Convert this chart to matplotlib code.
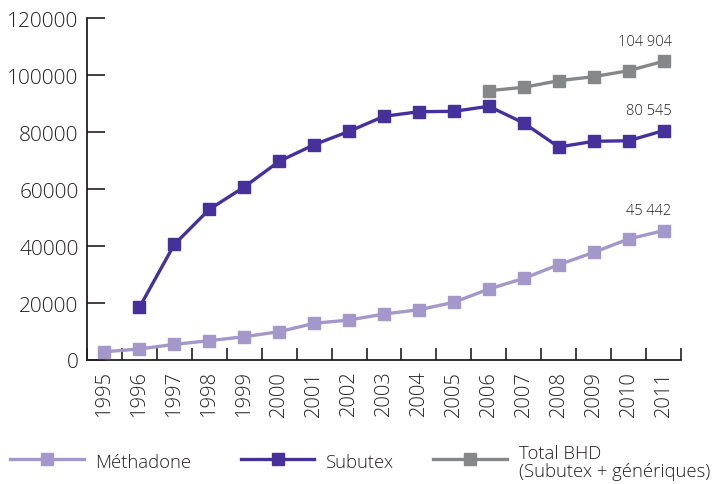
import matplotlib
matplotlib.use("Agg")
import matplotlib.pyplot as plt
from matplotlib.lines import Line2D

years = [str(y) for y in range(1995, 2012)]
methadone = [2900, 3860, 5500, 6780, 8190, 9940, 12880, 14040, 16150, 17660,
             20250, 24920, 28670, 33460, 37800, 42490, 45442]
subutex_years = years[1:]
subutex = [18500, 40600, 52900, 60760, 69780, 75600, 80300, 85580, 87200, 87330,
           89100, 83230, 74800, 76800, 77000, 80545]
total_years = years[11:]
total = [94580, 95770, 98090, 99500, 101600, 104904]
labels_end = ["45 442", "80 545", "104 904"]
yticks = [0, 20000, 40000, 60000, 80000, 100000, 120000]

c_meth = "#a497c9"
c_sub = "#46309a"
c_tot = "#868789"
txt = "#231f20"

plt.rcParams['font.family'] = ['Open Sans', 'DejaVu Sans']
plt.rcParams['font.weight'] = 300

fig = plt.figure(figsize=(7.17, 4.85), dpi=100)
ax = fig.add_axes([87/717, 1-361/485, (681-87)/717, (361-19.3)/485])

x_all = list(range(len(years)))
idx = {y: i for i, y in enumerate(years)}
lw = 2.4
ms = 8.5
ax.plot(x_all, methadone, color=c_meth, lw=lw, marker='s', ms=ms, clip_on=False, zorder=3)
ax.plot([idx[y] for y in subutex_years], subutex, color=c_sub, lw=lw, marker='s', ms=ms, clip_on=False, zorder=3)
ax.plot([idx[y] for y in total_years], total, color=c_tot, lw=lw, marker='s', ms=ms, clip_on=False, zorder=3)

for xv, yv, lab in [(16, methadone[-1], labels_end[0]), (16, subutex[-1], labels_end[1]), (16, total[-1], labels_end[2])]:
    ax.annotate(lab, (xv, yv), xytext=(8, 20), textcoords='offset pixels',
                ha='right', va='center', fontsize=10.5, color=txt)

ax.set_xlim(-0.5, 16.5)
ax.set_ylim(0, 120000)
ax.set_yticks(yticks)
ax.set_yticklabels([str(v) for v in yticks])
ax.set_xticks([i - 0.5 for i in range(len(years) + 1)], minor=False)
ax.set_xticklabels([])
ax.set_xticks(x_all, minor=True)
ax.set_xticklabels(years, minor=True, rotation=90)
ax.tick_params(axis='x', which='major', direction='in', length=9, width=1.2, color=txt)
ax.tick_params(axis='x', which='minor', length=0, pad=7, labelsize=14.5, labelcolor=txt)
ax.tick_params(axis='y', direction='in', length=13, width=1.2, color=txt, labelsize=15, labelcolor=txt, pad=6)
for s in ['top', 'right']:
    ax.spines[s].set_visible(False)
for s in ['left', 'bottom']:
    ax.spines[s].set_linewidth(1.3)
    ax.spines[s].set_color(txt)

# legend
ly = 1 - 460/485
entries = [(c_meth, 10, 84, "Méthadone", 95), (c_sub, 241, 314, "Subutex", 326),
           (c_tot, 433, 507, "Total BHD\n(Subutex + génériques)", 519)]
for col, x0, x1, lab, tx in entries:
    fig.add_artist(Line2D([x0/717, x1/717], [ly, ly], color=col, lw=lw, transform=fig.transFigure))
    fig.add_artist(Line2D([(x0+x1)/2/717], [ly], color=col, marker='s', ms=ms, transform=fig.transFigure))
    fig.text(tx/717, 1-463/485, lab, ha='left', va='center',
             fontsize=13.3, color=txt, linespacing=1.0)

fig.savefig("out.png", dpi=100)
